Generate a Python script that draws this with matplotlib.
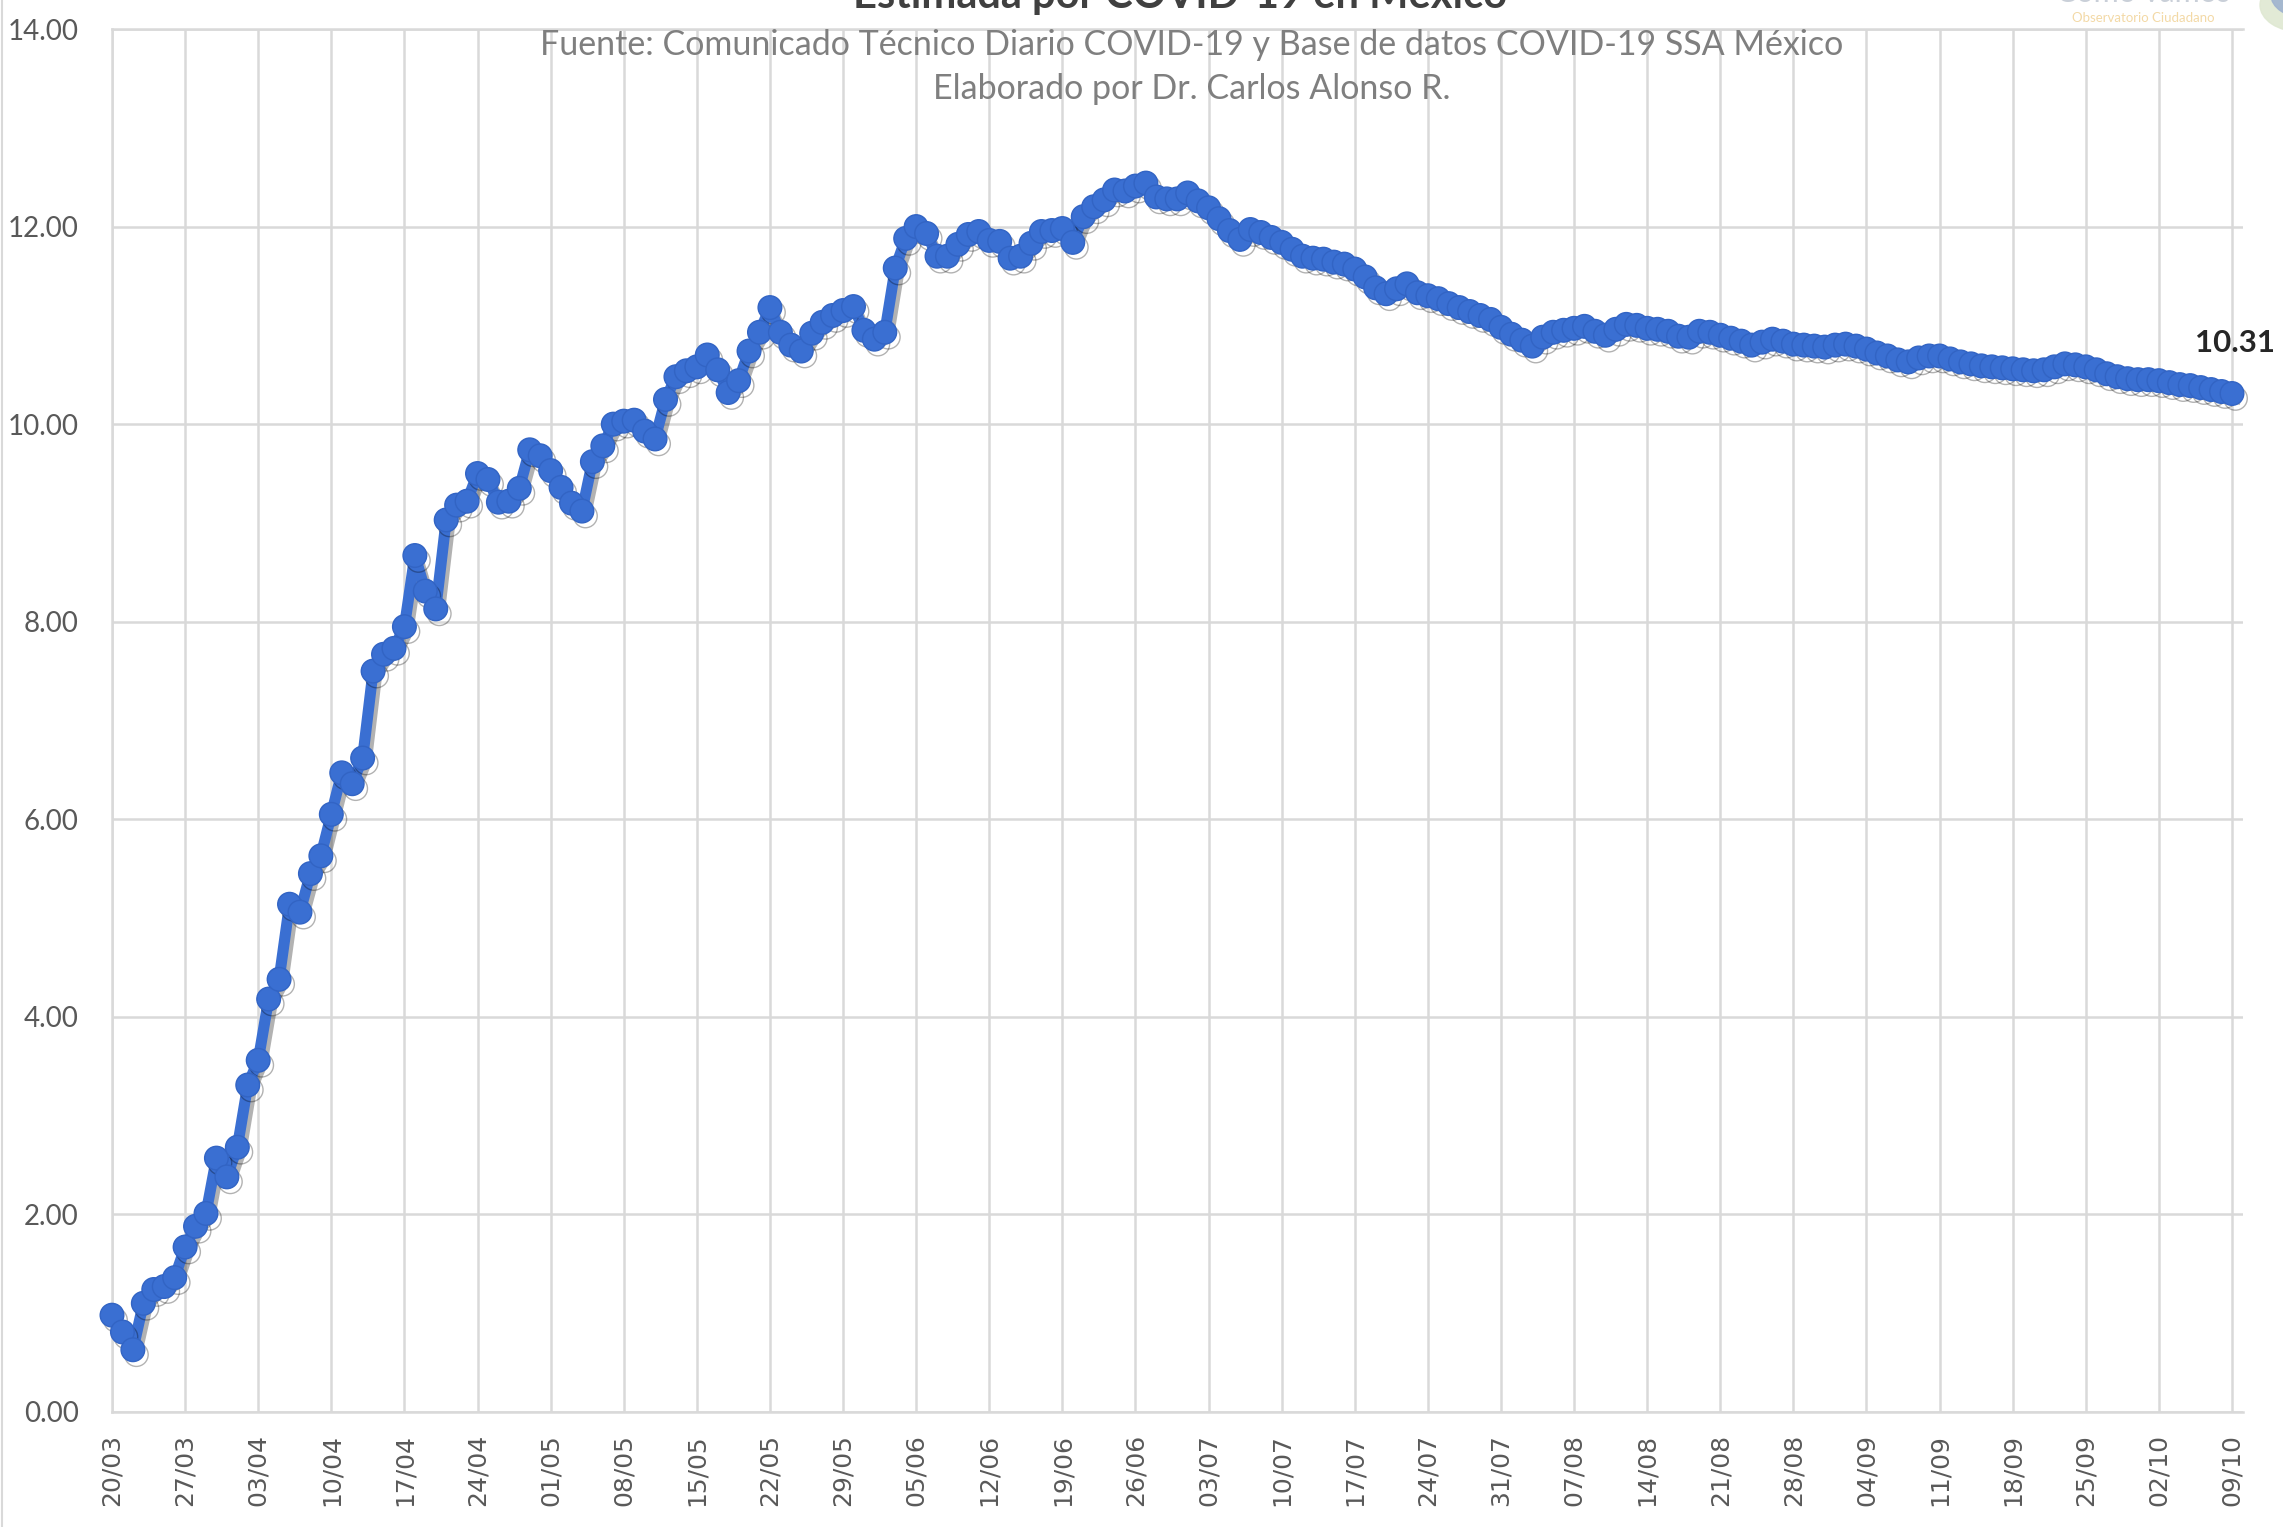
import pandas as pd
import matplotlib.pyplot as plt
import matplotlib.patheffects as pe
from matplotlib.lines import Line2D
from matplotlib.patches import Circle

# ─────────────────────────────────────────
# DATA  (daily values, 20/03 -> 09/10, one row per week)
# ─────────────────────────────────────────
start_date = "2020-03-20"
end_date = "2020-10-09"

letalidad = [
    0.98, 0.81, 0.63, 1.10, 1.24, 1.27, 1.36,          # 20/03
    1.67, 1.88, 2.01, 2.57, 2.38, 2.68, 3.31,          # 27/03
    3.56, 4.18, 4.38, 5.14, 5.06, 5.45, 5.63,          # 03/04
    6.05, 6.47, 6.36, 6.62, 7.50, 7.67, 7.73,          # 10/04
    7.95, 8.67, 8.31, 8.13, 9.03, 9.18, 9.22,          # 17/04
    9.50, 9.44, 9.21, 9.22, 9.35, 9.74, 9.68,          # 24/04
    9.53, 9.36, 9.20, 9.12, 9.62, 9.78, 10.00,         # 01/05
    10.03, 10.04, 9.93, 9.85, 10.25, 10.48, 10.54,     # 08/05
    10.58, 10.70, 10.55, 10.32, 10.44, 10.74, 10.93,   # 15/05
    11.18, 10.93, 10.80, 10.74, 10.92, 11.03, 11.10,   # 22/05
    11.15, 11.19, 10.95, 10.86, 10.93, 11.58, 11.88,   # 29/05
    12.00, 11.93, 11.70, 11.70, 11.82, 11.92, 11.95,   # 05/06
    11.86, 11.85, 11.68, 11.70, 11.83, 11.95, 11.96,   # 12/06
    11.98, 11.84, 12.10, 12.20, 12.27, 12.37, 12.36,   # 19/06
    12.41, 12.44, 12.30, 12.28, 12.28, 12.34, 12.26,   # 26/06
    12.19, 12.08, 11.96, 11.87, 11.97, 11.94, 11.89,   # 03/07
    11.84, 11.77, 11.70, 11.68, 11.67, 11.64, 11.62,   # 10/07
    11.57, 11.49, 11.38, 11.32, 11.37, 11.42, 11.33,   # 17/07
    11.30, 11.27, 11.22, 11.18, 11.14, 11.10, 11.06,   # 24/07
    10.98, 10.91, 10.85, 10.79, 10.88, 10.93, 10.95,   # 31/07
    10.97, 10.99, 10.94, 10.90, 10.96, 11.01, 11.00,   # 07/08
    10.97, 10.96, 10.94, 10.89, 10.88, 10.94, 10.93,   # 14/08
    10.90, 10.87, 10.84, 10.80, 10.83, 10.86, 10.84,   # 21/08
    10.81, 10.80, 10.79, 10.78, 10.80, 10.81, 10.79,   # 28/08
    10.76, 10.72, 10.69, 10.65, 10.63, 10.67, 10.69,   # 04/09
    10.69, 10.66, 10.63, 10.61, 10.59, 10.58, 10.57,   # 11/09
    10.56, 10.55, 10.54, 10.55, 10.58, 10.61, 10.60,   # 18/09
    10.58, 10.55, 10.51, 10.48, 10.46, 10.45, 10.45,   # 25/09
    10.44, 10.42, 10.40, 10.39, 10.37, 10.35, 10.33,   # 02/10
    10.31,                                             # 09/10
]

last_label = "10.31"
y_ticks = [0, 2, 4, 6, 8, 10, 12, 14]

title_line = "Estimada por COVID-19 en México"
subtitle = ("Fuente: Comunicado Técnico Diario COVID-19 y Base de datos COVID-19 SSA México\n"
            "Elaborado por Dr. Carlos Alonso R.")
logo_top = "Cómo vamos"
logo_bottom = "Observatorio Ciudadano"

dates = pd.date_range(start_date, end_date, freq="D")
x = list(range(len(dates)))
tick_pos = x[::7]
tick_labels = [d.strftime("%d/%m") for d in dates[::7]]

blue = "#3a6fd2"
grid_col = "#d9d9d9"
txt_col = "#595959"

# ─────────────────────────────────────────
# FIGURE
# ─────────────────────────────────────────
W, H = 2283, 1527
fig = plt.figure(figsize=(W / 100, H / 100), dpi=100)
fig.patch.set_facecolor("white")

px_day = 2120 / (len(x) - 1)
ax = fig.add_axes([112 / W, 1 - 1412 / H, (2120 + 1.1 * px_day) / W, (1412 - 29) / H])

ax.plot(x, letalidad, color=blue, lw=8, marker="o", ms=17,
        markerfacecolor=blue, markeredgecolor="#3264c4", markeredgewidth=1,
        solid_joinstyle="round", zorder=3, clip_on=False,
        path_effects=[pe.SimpleLineShadow(offset=(2.5, -3.5), shadow_color="k", alpha=0.3),
                      pe.Normal()])

ax.set_xlim(0, len(x) - 1 + 1.1)
ax.set_ylim(0, 14)
ax.set_yticks(y_ticks)
ax.set_yticklabels([f"{v:.2f}" for v in y_ticks], family="Lato",
                   fontsize=20, color=txt_col)
ax.set_xticks(tick_pos)
ax.set_xticklabels(tick_labels, rotation=90, family="DejaVu Sans",
                   fontsize=18, color=txt_col)
ax.tick_params(axis="both", length=0)
ax.tick_params(axis="y", pad=24)
ax.tick_params(axis="x", pad=16)

ax.grid(True, color=grid_col, lw=1.8)
ax.set_axisbelow(True)
for s in ["right"]:
    ax.spines[s].set_visible(False)
for s in ["left", "bottom", "top"]:
    ax.spines[s].set_color(grid_col)
    ax.spines[s].set_linewidth(1.8)

# last value label
ax.annotate(last_label, (x[-1], letalidad[-1]), xytext=(2, 26),
            textcoords="offset points", ha="center", va="bottom",
            family="Lato", fontweight="bold", fontsize=22.5, color="#262626")

# titles (top line of the title is cut off in the original)
fig.text(1180 / W, 1 - 8 / H, title_line, ha="center", va="baseline",
         family="Lato", fontweight="bold", fontsize=30, color="#404040")
fig.text(1192 / W, 1 - 67 / H, subtitle, ha="center", va="center",
         family="Lato", fontsize=24.5, color="#7f7f7f", linespacing=1.45)

# logo corner
fig.text(2143 / W, 1 - 2 / H, logo_top, ha="center", va="baseline",
         family="Lato", fontsize=22, color="#c9cfd8")
fig.text(2143 / W, 1 - 22 / H, logo_bottom, ha="center", va="baseline",
         family="Lato", fontsize=9.5, color="#f3d9a6")
fig.add_artist(Circle((2300 / W, 1 - 5 / H), 40 / W, transform=fig.transFigure,
                      color="#dfe8d2", alpha=0.9, clip_on=False))
fig.add_artist(Circle((2305 / W, 1 + 5 / H), 34 / W, transform=fig.transFigure,
                      color="#9fb3cf", alpha=0.9, clip_on=False))

# light frame line on the left edge
fig.add_artist(Line2D([2 / W, 2 / W], [0, 1], transform=fig.transFigure,
                      color=grid_col, lw=1.5))

fig.savefig("out.png", dpi=100, facecolor="white")
